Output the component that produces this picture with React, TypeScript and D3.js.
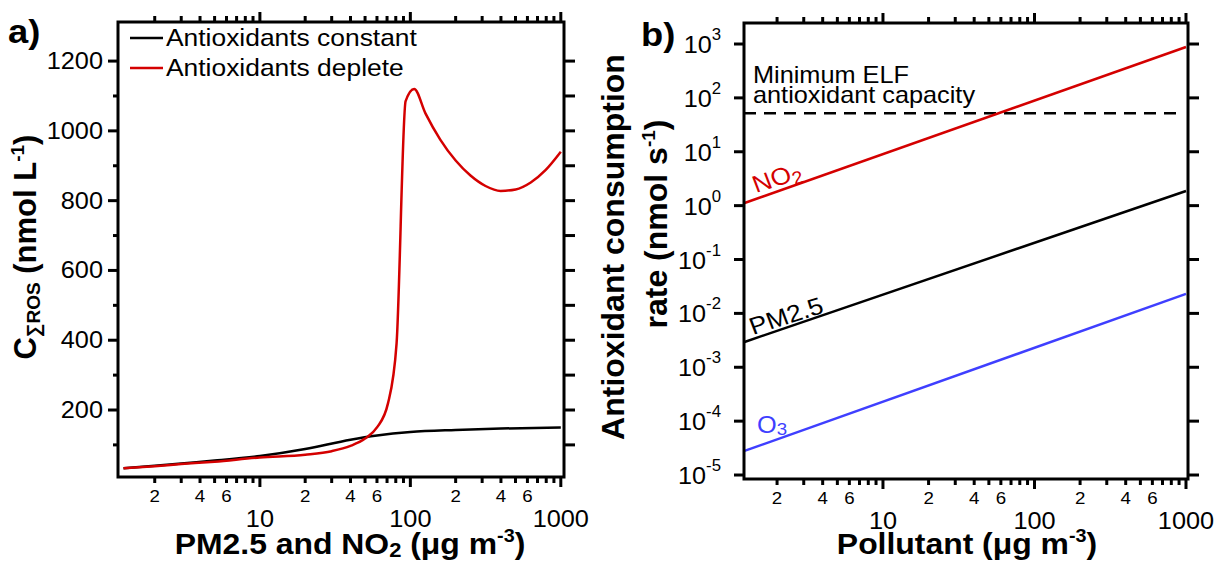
import React from 'react';
import * as d3 from 'd3';

// panel a: ROS concentration vs PM2.5 / NO2 concentration
const constX = [1.24, 2, 3, 5, 10, 20, 40, 60, 100, 200, 400, 1000];
const constY = [33, 40, 47, 55, 68, 88, 115, 127, 137, 143, 147, 150];
const depleteX = [1.24, 2, 3, 5, 10, 20, 30, 40, 50, 60, 71, 81, 93, 106, 126, 158, 200, 251, 316, 398, 501, 631, 794, 1000];
const depleteY = [33, 39, 45, 52, 64, 72, 82, 97, 118, 150, 219, 391, 1085, 1120, 1050, 975, 915, 872, 842, 828, 832, 852, 888, 940];

// panel b: antioxidant consumption rate vs pollutant
const pollutantX = [1.22, 1000];
const no2Rate = [1.12, 880];
const pm25Rate = [0.00295, 1.87];
const o3Rate = [2.8e-5, 0.023];
const elfCapacity = 52;

// ticks
const decades = [1, 10, 100];
const minorMult = [2, 3, 4, 5, 6, 7, 8, 9];
const majorXTicks = [10, 100, 1000];
const minorXLabels = [2, 4, 6];
const yTicksA = [200, 400, 600, 800, 1000, 1200];
const yMinorA = [100, 300, 500, 700, 900, 1100];
const yExpB = [-5, -4, -3, -2, -1, 0, 1, 2, 3];

const FONT = "'Liberation Sans', Arial, Helvetica, sans-serif";
const RED = '#d40000';
const BLUE = '#3f3fff';
const SX = 1.1;

function Txt({ x, y, size, anchor = 'start', weight = 'normal', fill = '#000', sx = SX, rot = 0, children }: any) {
  return (
    <text
      transform={`translate(${x},${y}) scale(${sx},1) rotate(${rot})`}
      fontSize={size}
      fontFamily={FONT}
      fontWeight={weight}
      textAnchor={anchor}
      fill={fill}
    >
      {children}
    </text>
  );
}

const lead = (v: number) => Math.round(v / Math.pow(10, Math.floor(Math.log10(v) + 1e-9)));

function LogXAxis({ x, yTop, yBot }: any) {
  const [d0, d1] = x.domain();
  const minors: number[] = [];
  decades.forEach(d => minorMult.forEach(m => { const v = d * m; if (v >= d0 && v <= d1) minors.push(v); }));
  return (
    <g stroke="#000" strokeWidth={3}>
      {minors.map(v => (
        <g key={'m' + v}>
          <line x1={x(v)} x2={x(v)} y1={yBot} y2={yBot + 6} />
          <line x1={x(v)} x2={x(v)} y1={yTop} y2={yTop - 6} />
        </g>
      ))}
      {majorXTicks.map(v => (
        <g key={'M' + v}>
          <line x1={x(v)} x2={x(v)} y1={yBot} y2={yBot + 10} />
          <line x1={x(v)} x2={x(v)} y1={yTop} y2={yTop - 10} />
        </g>
      ))}
      <g stroke="none">
        {minors.filter(v => minorXLabels.includes(lead(v))).map(v => (
          <Txt key={'l' + v} x={x(v)} y={yBot + 25} size={17} anchor="middle">{String(lead(v))}</Txt>
        ))}
        {majorXTicks.map(v => (
          <Txt key={'L' + v} x={x(v)} y={yBot + 50} size={23} anchor="middle">{String(v)}</Txt>
        ))}
      </g>
    </g>
  );
}

export default function App() {
  // panel a scales
  const xA = d3.scaleLog().domain([1.14, 1050]).range([118, 564]);
  const yA = d3.scaleLinear().domain([8, 1312]).range([477, 22]);
  // panel b scales
  const xB = d3.scaleLog().domain([1.21, 1031]).range([744, 1188]);
  const yB = d3.scaleLog().domain([Math.pow(10, -5.074), Math.pow(10, 3.39)]).range([479, 23]);

  const lineA = d3.line<[number, number]>().x(d => xA(d[0])).y(d => yA(d[1])).curve(d3.curveMonotoneX);
  const lineB = d3.line<[number, number]>().x(d => xB(d[0])).y(d => yB(d[1]));

  const constPts = constX.map((v, i) => [v, constY[i]] as [number, number]);
  const depletePts = depleteX.map((v, i) => [v, depleteY[i]] as [number, number]);
  const no2Pts = pollutantX.map((v, i) => [v, no2Rate[i]] as [number, number]);
  const pmPts = pollutantX.map((v, i) => [v, pm25Rate[i]] as [number, number]);
  const o3Pts = pollutantX.map((v, i) => [v, o3Rate[i]] as [number, number]);

  const [ax0, ax1] = xA.range();
  const [ay1, ay0] = yA.range();
  const [bx0, bx1] = xB.range();
  const [by1, by0] = yB.range();

  return (
    <svg width={1217} height={563} style={{ position: 'absolute', left: 0, top: 0, background: '#fff' }}>
      <rect width={1217} height={563} fill="#fff" />

      {/* ---------- panel a ---------- */}
      <Txt x={8} y={43} size={33} weight="bold">a)</Txt>
      <path d={lineA(constPts) || ''} fill="none" stroke="#000" strokeWidth={2.5} />
      <path d={lineA(depletePts) || ''} fill="none" stroke={RED} strokeWidth={2.5} strokeLinejoin="round" />
      <rect x={ax0} y={ay0} width={ax1 - ax0} height={ay1 - ay0} fill="none" stroke="#000" strokeWidth={3} />
      <LogXAxis x={xA} yTop={ay0} yBot={ay1} />
      <g stroke="#000" strokeWidth={3}>
        {yTicksA.map(v => <line key={'a' + v} x1={ax0 - 10} x2={ax0} y1={yA(v)} y2={yA(v)} />)}
        {yMinorA.map(v => <line key={'am' + v} x1={ax0 - 5} x2={ax0} y1={yA(v)} y2={yA(v)} />)}
        {[...yTicksA, ...yMinorA].map(v => <line key={'ar' + v} x1={ax1} x2={ax1 + 11} y1={yA(v)} y2={yA(v)} />)}
      </g>
      {yTicksA.map(v => (
        <Txt key={'at' + v} x={103} y={yA(v) + 8} size={23} anchor="end">{String(v)}</Txt>
      ))}
      {/* legend */}
      <line x1={130} x2={163} y1={38} y2={38} stroke="#000" strokeWidth={2.5} />
      <line x1={130} x2={163} y1={68} y2={68} stroke={RED} strokeWidth={2.5} />
      <Txt x={166} y={46} size={24}>Antioxidants constant</Txt>
      <Txt x={166} y={76} size={24}>Antioxidants deplete</Txt>
      {/* axis titles */}
      <Txt x={350} y={554} size={29} weight="bold" anchor="middle">
        PM2.5 and NO<tspan fontSize={20} dy={3}>2</tspan>
        <tspan dy={-3}> (μg m</tspan><tspan fontSize={18} dy={-12}>-3</tspan><tspan dy={12}>)</tspan>
      </Txt>
      <text transform="translate(36,247) rotate(-90)" fontFamily={FONT} fontWeight="bold" fontSize={31} textAnchor="middle">
        C<tspan fontSize={19} dy={4}>∑ROS</tspan><tspan dy={-4}> (nmol L</tspan><tspan fontSize={19} dy={-12}>-1</tspan><tspan dy={12}>)</tspan>
      </text>

      {/* ---------- panel b ---------- */}
      <Txt x={641} y={46} size={33} weight="bold">b)</Txt>
      <line x1={bx0} x2={1176} y1={yB(elfCapacity)} y2={yB(elfCapacity)} stroke="#000" strokeWidth={2.5} strokeDasharray="12,8" />
      <path d={lineB(no2Pts) || ''} fill="none" stroke={RED} strokeWidth={2.5} />
      <path d={lineB(pmPts) || ''} fill="none" stroke="#000" strokeWidth={2.5} />
      <path d={lineB(o3Pts) || ''} fill="none" stroke={BLUE} strokeWidth={2.5} />
      <rect x={bx0} y={by0} width={bx1 - bx0} height={by1 - by0} fill="none" stroke="#000" strokeWidth={3} />
      <LogXAxis x={xB} yTop={by0} yBot={by1} />
      <g stroke="#000" strokeWidth={3}>
        {yExpB.map(e => <line key={'b' + e} x1={bx0 - 10} x2={bx0} y1={yB(Math.pow(10, e))} y2={yB(Math.pow(10, e))} />)}
        {yExpB.map(e => <line key={'br' + e} x1={bx1} x2={bx1 + 11} y1={yB(Math.pow(10, e))} y2={yB(Math.pow(10, e))} />)}
      </g>
      {yExpB.map(e => (
        <Txt key={'bt' + e} x={721} y={yB(Math.pow(10, e)) + 9} size={24} anchor="end" sx={1.05}>
          10<tspan fontSize={16} dy={-13}>{String(e)}</tspan>
        </Txt>
      ))}
      <Txt x={753} y={83} size={23}>Minimum ELF</Txt>
      <Txt x={753} y={103} size={23}>antioxidant capacity</Txt>
      <Txt x={756} y={193} size={24} fill={RED} rot={-19}>
        NO<tspan fontSize={18} dy={4}>2</tspan>
      </Txt>
      <Txt x={753} y={335} size={24} rot={-19}>PM2.5</Txt>
      <Txt x={757} y={433} size={23} fill={BLUE}>
        O<tspan fontSize={17} dy={2}>3</tspan>
      </Txt>
      <Txt x={967} y={554} size={29} weight="bold" anchor="middle">
        Pollutant (μg m<tspan fontSize={18} dy={-12}>-3</tspan><tspan dy={12}>)</tspan>
      </Txt>
      <text transform="translate(624,247) rotate(-90)" fontFamily={FONT} fontWeight="bold" fontSize={32} textAnchor="middle">
        Antioxidant consumption
      </text>
      <text transform="translate(667,224) rotate(-90)" fontFamily={FONT} fontWeight="bold" fontSize={32} textAnchor="middle">
        rate (nmol s<tspan fontSize={19} dy={-12}>-1</tspan><tspan dy={12}>)</tspan>
      </text>
    </svg>
  );
}
